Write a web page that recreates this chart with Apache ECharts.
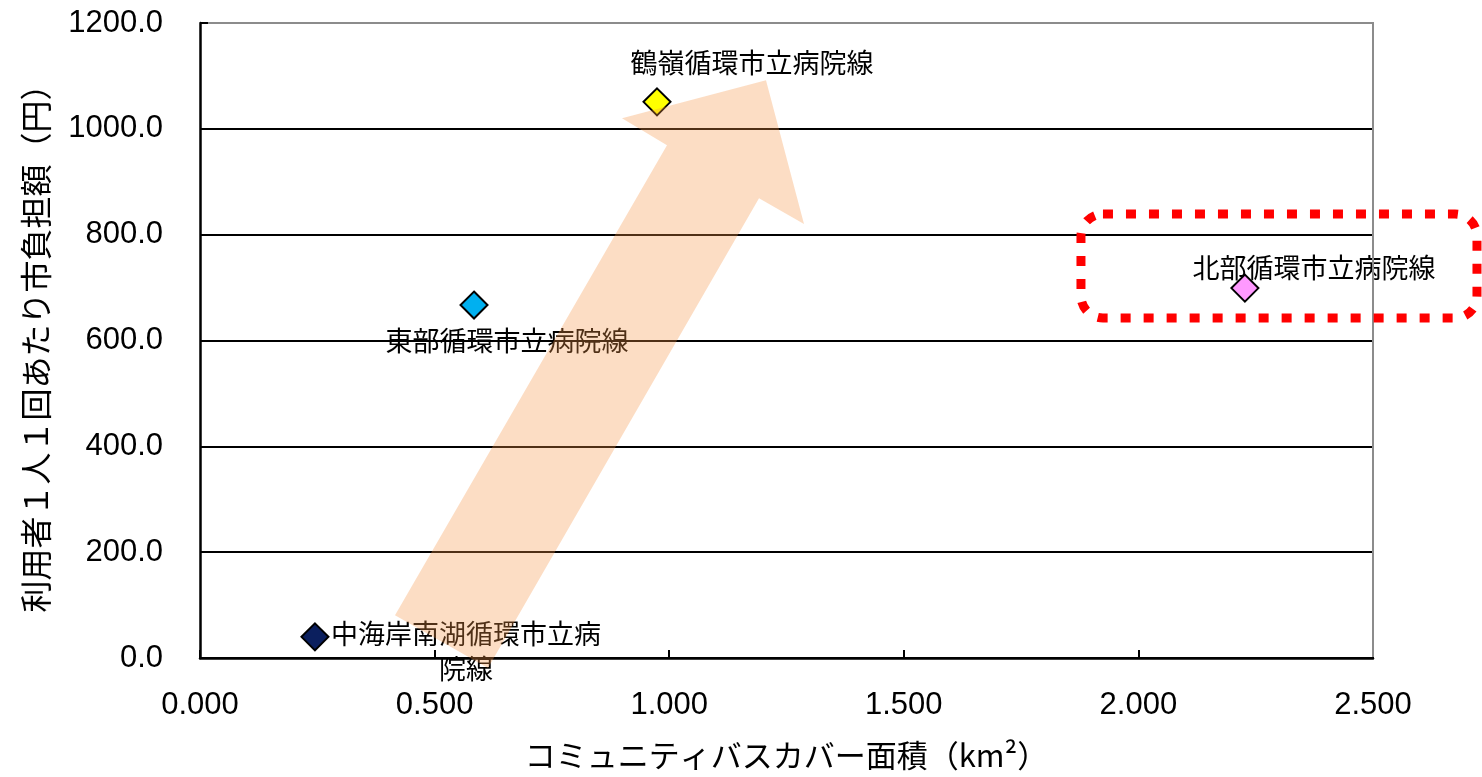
<!DOCTYPE html>
<html>
<head>
<meta charset="utf-8">
<style>
  html, body { margin: 0; padding: 0; background: #ffffff; }
  #chart { width: 1482px; height: 777px; }
</style>
<script src="https://cdn.jsdelivr.net/npm/echarts@6/dist/echarts.min.js"></script>
</head>
<body>
<div id="chart"></div>
<script>
// Bus routes: coverage area (km²) vs. city cost per passenger per ride (yen)
const routeNames = [
  '中海岸南湖循環市立病\n院線',
  '東部循環市立病院線',
  '鶴嶺循環市立病院線',
  '北部循環市立病院線'
];
const coverageArea = [0.245, 0.584, 0.974, 2.227];
const costPerRide = [40, 667, 1051, 699];
const markerColors = ['#0B1F5E', '#00B0F0', '#FFFF00', '#FF99FF'];

// Axis ranges and tick steps
const xTicks = { min: 0, max: 2.5, step: 0.5 };
const yTicks = { min: 0, max: 1200, step: 200 };

// Label placement (pixel offset of label centre from the marker centre)
const labelOffsets = [[152, 15], [34, 37], [96, -38], [70, -19]];

// Trend arrow outline, in axis units
const arrowPath = [
  [0.4156, 81], [0.6138, -19], [1.1914, 869], [1.2873, 820],
  [1.2063, 1092], [0.8994, 1020], [0.9953, 969]
];
// Highlight box round the 北部 route, in axis units
const highlightBox = { x0: 1.8776, x1: 2.7216, y0: 839, y1: 642.5 };

const jpFont = '"Noto Sans CJK JP", "Noto Sans", sans-serif';
const numFont = '"Liberation Sans", Arial, sans-serif';
const markerSize = 27;

const chart = echarts.init(document.getElementById('chart'));

const points = coverageArea.map((x, i) => ({
  value: [x, costPerRide[i]],
  name: routeNames[i],
  itemStyle: { color: markerColors[i] },
  label: {
    position: [markerSize / 2 + labelOffsets[i][0], markerSize / 2 + labelOffsets[i][1]]
  }
}));

chart.setOption({
  animation: false,
  backgroundColor: '#ffffff',
  grid: { left: 200, right: 109, top: 23, bottom: 119, containLabel: false },
  xAxis: {
    type: 'value',
    min: xTicks.min, max: xTicks.max, interval: xTicks.step,
    name: 'コミュニティバスカバー面積（km²）',
    nameLocation: 'middle',
    nameGap: 82,
    nameTextStyle: { fontFamily: jpFont, fontSize: 31, color: '#000' },
    axisLine: { show: true, onZero: false, lineStyle: { color: '#000', width: 2.5 } },
    axisTick: { show: true, inside: true, length: 8, lineStyle: { color: '#000', width: 2 } },
    axisLabel: {
      fontFamily: numFont, fontSize: 31, color: '#000', margin: 32,
      formatter: v => v.toFixed(3)
    },
    splitLine: { show: false }
  },
  yAxis: {
    type: 'value',
    min: yTicks.min, max: yTicks.max, interval: yTicks.step,
    name: '利用者１人１回あたり市負担額（円）',
    nameLocation: 'middle',
    nameRotate: 90,
    nameGap: 148,
    nameTextStyle: { fontFamily: jpFont, fontSize: 32, color: '#000' },
    axisLine: { show: true, onZero: false, lineStyle: { color: '#000', width: 2.5 } },
    axisTick: { show: true, inside: true, length: 8, lineStyle: { color: '#000', width: 2 } },
    axisLabel: {
      fontFamily: numFont, fontSize: 31, color: '#000', margin: 37,
      formatter: v => v.toFixed(1)
    },
    splitLine: { show: true, lineStyle: { color: '#000', width: 2 } }
  },
  series: [{
    type: 'scatter',
    symbol: 'diamond',
    symbolSize: markerSize,
    itemStyle: { borderColor: '#000', borderWidth: 2, opacity: 1 },
    label: {
      show: true,
      align: 'center',
      verticalAlign: 'middle',
      formatter: p => p.name,
      fontFamily: jpFont,
      fontSize: 27,
      lineHeight: 35,
      color: '#000'
    },
    labelLayout: { hideOverlap: false },
    emphasis: { disabled: true },
    data: points,
    z: 5
  }]
});

// Overlays: plot-area frame (top/right), trend arrow and highlight box
function drawOverlays() {
  const px = p => chart.convertToPixel({ gridIndex: 0 }, p);
  const tl = px([xTicks.min, yTicks.max]);
  const tr = px([xTicks.max, yTicks.max]);
  const br = px([xTicks.max, yTicks.min]);
  const arrowPts = arrowPath.map(px);
  const b0 = px([highlightBox.x0, highlightBox.y0]);
  const b1 = px([highlightBox.x1, highlightBox.y1]);

  chart.setOption({
    graphic: [
      {
        type: 'rect', z: 49,
        shape: { x: tl[0] + 8, y: tl[1] - 2, width: tr[0] - tl[0] - 8, height: 4 },
        style: { fill: '#ffffff' }
      },
      {
        type: 'polyline', z: 50,
        shape: { points: [[tl[0] + 8, tl[1]], tr, [br[0], br[1] - 1]] },
        style: { stroke: '#8c8c8c', lineWidth: 2, fill: null }
      },
      {
        type: 'polygon', z: 60,
        shape: { points: arrowPts },
        style: { fill: 'rgba(247,150,70,0.32)', stroke: null }
      },
      {
        type: 'rect', z: 70,
        shape: { x: b0[0], y: b0[1], width: b1[0] - b0[0], height: b1[1] - b0[1], r: 22 },
        style: { fill: null, stroke: '#FF0000', lineWidth: 9, lineDash: [10, 13] }
      }
    ]
  });
}
drawOverlays();
</script>
</body>
</html>
